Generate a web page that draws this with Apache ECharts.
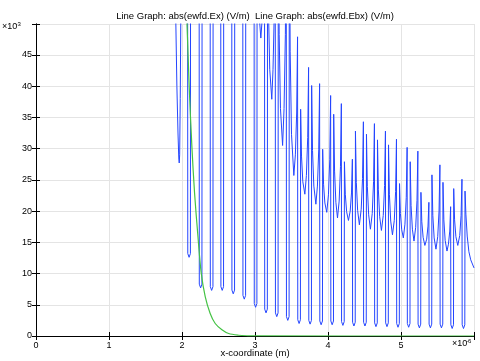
<!DOCTYPE html>
<html><head><meta charset="utf-8">
<script src="https://cdn.jsdelivr.net/npm/echarts@6/dist/echarts.min.js"></script>
<style>html,body{margin:0;padding:0;background:#fff}#c{width:480px;height:361px}</style>
</head><body><div id="c"></div>
<script>
const titleText = 'Line Graph: abs(ewfd.Ex) (V/m)  Line Graph: abs(ewfd.Ebx) (V/m)';
const xAxisTitle = 'x-coordinate (m)';
const xTickLabels = ['0', '1', '2', '3', '4', '5'];
const yTickLabels = ['0', '5', '10', '15', '20', '25', '30', '35', '40', '45'];
const xExponent = '-6';
const yExponent = '-3';

// abs(ewfd.Ex), x in 1e-6 m, value in 1e-3 V/m (values above ~50 are off the plot)
const blueStart = [
  [1.90, 75], [1.915, 50.5], [1.93, 40], [1.945, 32.5], [1.956, 28.5], [1.962, 27.7],
  [1.968, 29], [1.976, 38], [1.986, 55], [1.995, 75],
  [2.076, 80], [2.079, 13.2], [2.097, 12.6], [2.115, 13.2], [2.118, 80],
  [2.234, 80], [2.237, 8.3], [2.255, 7.7], [2.273, 8.3], [2.276, 80],
  [2.385, 80], [2.388, 7.9], [2.406, 7.3], [2.424, 7.9], [2.427, 80],
  [2.530, 80], [2.533, 7.9], [2.551, 7.3], [2.569, 7.9], [2.572, 80],
  [2.681, 80], [2.684, 7.35], [2.702, 6.75], [2.720, 7.35], [2.723, 80],
  [2.832, 80], [2.835, 6.5], [2.853, 5.9], [2.871, 6.5], [2.874, 80]
];
const blueMiddle = [
  [2.987, 80], [2.990, 5.2], [3.008, 4.6], [3.026, 5.2], [3.029, 70],
  [3.041, 57.7], [3.059, 51.0], [3.08, 47.7], [3.100, 51.0], [3.118, 57.7],
  [3.130, 70], [3.133, 4.3], [3.151, 3.7], [3.169, 4.3], [3.172, 70],
  [3.184, 52.3], [3.202, 42.7], [3.23, 37.9], [3.247, 42.7], [3.265, 52.3],
  [3.277, 70], [3.280, 3.7], [3.298, 3.1], [3.316, 3.7], [3.319, 70],
  [3.331, 48.3], [3.349, 36.4], [3.378, 30.5], [3.398, 36.4], [3.416, 48.3],
  [3.428, 70], [3.431, 3.1], [3.449, 2.5], [3.467, 3.1], [3.470, 70],
  [3.482, 45.6], [3.500, 32.3], [3.532, 25.7], [3.553, 29.0], [3.571, 35.7],
  [3.583, 47.9], [3.586, 2.6], [3.604, 2.0], [3.622, 2.6], [3.625, 36.3],
  [3.637, 28.8], [3.655, 24.7], [3.683, 22.7], [3.704, 25.7], [3.722, 31.8],
  [3.734, 43.0], [3.737, 2.5], [3.755, 1.9], [3.773, 2.5], [3.776, 40.1],
  [3.788, 29.7], [3.806, 24.0], [3.834, 21.1], [3.855, 24.0], [3.873, 29.8],
  [3.885, 40.4], [3.888, 2.4], [3.906, 1.8], [3.924, 2.4], [3.927, 29.9],
  [3.939, 24.3], [3.957, 21.3], [3.983, 19.8], [4.006, 22.6], [4.024, 28.2],
  [4.036, 38.5], [4.039, 2.4], [4.057, 1.8], [4.075, 2.4], [4.078, 35.5],
  [4.090, 26.4], [4.108, 21.4], [4.13, 18.9], [4.153, 21.6], [4.171, 27.1],
  [4.183, 37.2], [4.186, 2.3], [4.204, 1.7], [4.222, 2.3], [4.225, 27.9],
  [4.237, 22.7], [4.255, 19.9], [4.28, 18.5], [4.304, 20.0], [4.322, 22.9]
];
const blueEnd = [
  [4.334, 28.3], [4.337, 2.2], [4.355, 1.6], [4.373, 2.2], [4.376, 32.8],
  [4.388, 24.6], [4.406, 20.1], [4.43, 17.8], [4.455, 20.3], [4.473, 25.2],
  [4.485, 34.3], [4.488, 2.2], [4.506, 1.6], [4.524, 2.2], [4.527, 32.3],
  [4.539, 23.9], [4.557, 19.4], [4.581, 17.1], [4.606, 19.6], [4.624, 24.7],
  [4.636, 34.0], [4.639, 2.1], [4.657, 1.5], [4.675, 2.1], [4.678, 31.4],
  [4.690, 23.4], [4.708, 19.1], [4.732, 16.9], [4.757, 19.3], [4.775, 24.1],
  [4.787, 32.8], [4.790, 2.1], [4.808, 1.5], [4.826, 2.1], [4.829, 30.6],
  [4.841, 22.7], [4.859, 18.4], [4.883, 16.2], [4.908, 18.5], [4.926, 23.1],
  [4.938, 31.5], [4.941, 2.0], [4.959, 1.4], [4.977, 2.0], [4.980, 24.4],
  [4.992, 19.6], [5.010, 17.0], [5.032, 15.7], [5.054, 17.9], [5.072, 22.2],
  [5.084, 30.2], [5.087, 2.0], [5.105, 1.4], [5.123, 2.0], [5.126, 27.9],
  [5.138, 20.9], [5.156, 17.1], [5.178, 15.2], [5.201, 17.4], [5.219, 21.7],
  [5.231, 29.6], [5.234, 1.9], [5.252, 1.3], [5.270, 1.9], [5.273, 23.0],
  [5.285, 18.3], [5.303, 15.8], [5.327, 14.5], [5.352, 15.5], [5.370, 17.6],
  [5.382, 21.4], [5.385, 1.9], [5.403, 1.3], [5.421, 1.9], [5.424, 25.8],
  [5.436, 19.3], [5.454, 15.7], [5.479, 13.9], [5.503, 15.9], [5.521, 20.0],
  [5.533, 27.4], [5.536, 1.9], [5.554, 1.3], [5.572, 1.9], [5.575, 24.6],
  [5.587, 18.6], [5.605, 15.3], [5.63, 13.6], [5.650, 14.7], [5.668, 16.8],
  [5.680, 20.7], [5.683, 1.8], [5.701, 1.2], [5.719, 1.8], [5.722, 23.6],
  [5.734, 18.6], [5.752, 15.9], [5.778, 14.5], [5.805, 16.1], [5.823, 19.3],
  [5.835, 25.1], [5.838, 1.8], [5.856, 1.2], [5.874, 1.8], [5.877, 23.2],
  [5.889, 19.5], [5.907, 16.0], [5.93, 13.5], [5.955, 12.2], [6.0, 10.9]
];
// abs(ewfd.Ebx)
const greenCurve = [
  [1.98, 80], [2.04, 58], [2.066, 50.8], [2.098, 40.1], [2.135, 30.4], [2.172, 22.9],
  [2.218, 16.0], [2.263, 10.1], [2.318, 6.3], [2.386, 3.6], [2.455, 2.0], [2.547, 1.0],
  [2.639, 0.4], [2.776, 0.12], [2.9, 0.03], [3.0, 0.01], [6.0, 0]
];

const FONT = 'Liberation Sans, Arial, sans-serif';
const chart = echarts.init(document.getElementById('c'), null, {renderer: 'canvas'});
const axisCommon = {
  axisLine: {show: true, lineStyle: {color: '#000', width: 1}},
  axisTick: {show: true, inside: true, length: 4, lineStyle: {color: '#000'}},
  splitLine: {show: false}
};
chart.setOption({
  animation: false,
  backgroundColor: '#fff',
  grid: {left: 36, right: 6, top: 24, bottom: 25, containLabel: false, outerBoundsMode: 'none'},
  xAxis: [
    Object.assign({}, axisCommon, {
      type: 'value', min: 0, max: 6, interval: 1, position: 'bottom',
      axisLabel: {show: true, margin: 5, fontSize: 9, fontFamily: FONT, color: '#000',
        formatter: v => (v < xTickLabels.length ? xTickLabels[v] : '')},
      splitLine: {show: true, lineStyle: {color: '#e4e4e4', width: 1}},
      name: xAxisTitle, nameLocation: 'middle', nameGap: 12, nameMoveOverlap: false,
      nameTextStyle: {fontSize: 9.5, fontFamily: FONT, color: '#000', verticalAlign: 'top'}
    }),
    Object.assign({}, axisCommon, {
      type: 'value', min: 0, max: 6, interval: 1, position: 'top',
      axisLabel: {show: false}
    })
  ],
  yAxis: [
    Object.assign({}, axisCommon, {
      type: 'value', min: 0, max: 49.95, interval: 5, position: 'left',
      axisLabel: {show: true, margin: 4, fontSize: 9, fontFamily: FONT, color: '#000',
        formatter: v => yTickLabels[Math.round(v / 5)] || ''},
      splitLine: {show: true, lineStyle: {color: '#e4e4e4', width: 1}}
    }),
    Object.assign({}, axisCommon, {
      type: 'value', min: 0, max: 49.95, interval: 5, position: 'right',
      axisLabel: {show: false}
    })
  ],
  series: [
    {
      type: 'line', xAxisIndex: 0, yAxisIndex: 0, showSymbol: false, symbol: 'none',
      data: blueStart.concat(blueMiddle, blueEnd),
      lineStyle: {color: '#2445ff', width: 1}, clip: true, z: 3
    },
    {
      type: 'line', xAxisIndex: 0, yAxisIndex: 0, showSymbol: false, symbol: 'none',
      smooth: 0.3, data: greenCurve,
      lineStyle: {color: '#44c244', width: 1.2}, clip: true, z: 4
    }
  ],
  graphic: [
    {type: 'text', x: 255, y: 16, style: {text: titleText, fontSize: 9.5, fontFamily: FONT, fill: '#000', align: 'center', verticalAlign: 'middle'}},
    {type: 'text', x: 2, y: 27, style: {text: '×10', fontSize: 9, fontFamily: FONT, fill: '#000', verticalAlign: 'middle'}},
    {type: 'text', x: 15.5, y: 24, style: {text: yExponent, fontSize: 6, fontFamily: FONT, fill: '#000', verticalAlign: 'middle'}},
    {type: 'text', x: 452, y: 344, style: {text: '×10', fontSize: 9, fontFamily: FONT, fill: '#000', verticalAlign: 'middle'}},
    {type: 'text', x: 466, y: 341, style: {text: xExponent, fontSize: 6, fontFamily: FONT, fill: '#000', verticalAlign: 'middle'}}
  ]
});
</script></body></html>
